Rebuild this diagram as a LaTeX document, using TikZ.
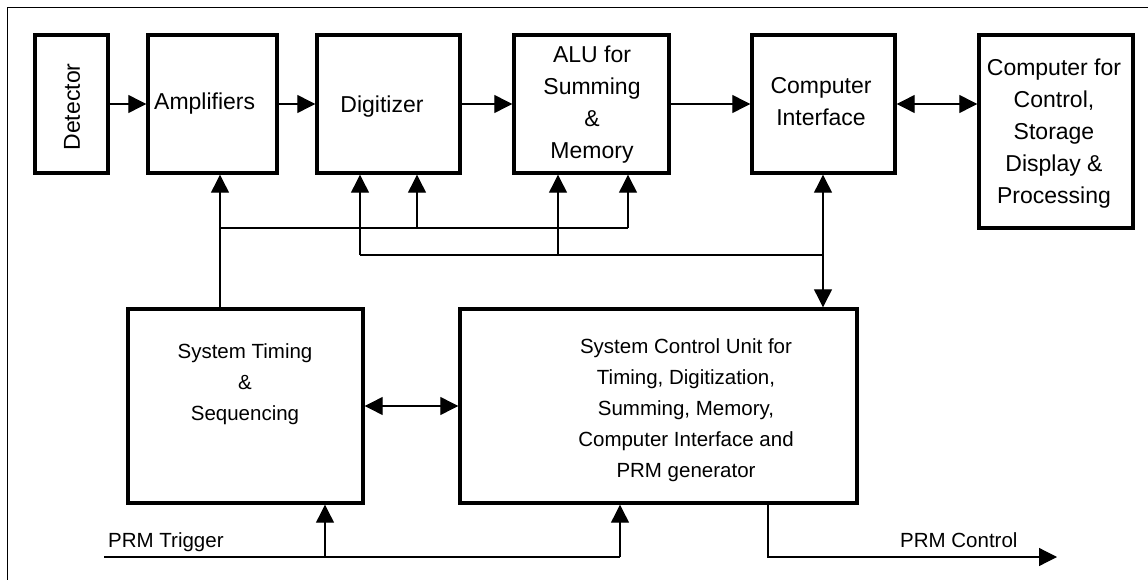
\documentclass[tikz,border=0pt]{standalone}
\usepackage{fontspec}
\setmainfont{Liberation Sans}
\usetikzlibrary{arrows.meta}
\begin{document}
\begin{tikzpicture}[x=1pt,y=-1pt,
  blk/.style={draw, line width=3.4pt, inner sep=0pt},
  big/.style={font=\fontsize{23}{32}\selectfont, align=center, inner sep=0pt},
  small/.style={font=\fontsize{20.5}{31}\selectfont, align=center, inner sep=0pt},
  conn/.style={line width=1.2pt},
  arr/.style={conn, -{Triangle[length=18pt,width=18pt]}},
  darr/.style={conn, {Triangle[length=18pt,width=18pt]}-{Triangle[length=18pt,width=18pt]}}]
\useasboundingbox (0,0) rectangle (1148,580);
% frame (only left and top edges visible)
\draw[line width=1pt] (7,580) -- (7,8) -- (1148,8);

% top row boxes
\node[blk, minimum width=73pt, minimum height=138pt] (det) at (71.5,104) {};
\node[blk, minimum width=129pt, minimum height=138pt] (amp) at (212.5,104) {};
\node[blk, minimum width=143pt, minimum height=138pt] (dig) at (388.5,104) {};
\node[blk, minimum width=155pt, minimum height=138pt] (alu) at (591.5,104) {};
\node[blk, minimum width=143pt, minimum height=138pt] (ci) at (823.5,104) {};
\node[blk, minimum width=154pt, minimum height=193pt] (comp) at (1056,131.5) {};

\node[big, rotate=90] (dett) at (72,107) {Detector};
\node[big, anchor=west] (ampt) at (154,104) {Amplifiers};
\node[big] (digt) at (382,107) {Digitizer};
\node[big] (alut) at (592,105) {ALU for\\Summing\\\&\\Memory};
\node[big] (cit) at (821,102) {Computer\\Interface};
\node[big] (compt) at (1054,134) {Computer for\\Control,\\Storage\\Display \&\\Processing};

% bottom row boxes
\node[blk, minimum width=235pt, minimum height=194pt] (st) at (245.5,406) {};
\node[blk, minimum width=397pt, minimum height=194pt] (scu) at (658.5,406) {};
\node[small] (stt) at (245,384) {System Timing\\\&\\Sequencing};
\node[small] (scut) at (686,410) {System Control Unit for\\Timing, Digitization,\\Summing, Memory,\\Computer Interface and\\PRM generator};

% top row connectors
\draw[arr] (det) -- (amp);
\draw[arr] (amp) -- (dig);
\draw[arr] (dig) -- (alu);
\draw[arr] (alu) -- (ci);
\draw[darr] (ci.east) -- (ci.east -| comp.west);

% buses
\coordinate (a1) at (220,228);
\coordinate (a2) at (417,228);
\coordinate (a3) at (628,228);
\coordinate (b1) at (360,255);
\coordinate (b2) at (558,255);
\coordinate (b3) at (823,255);
\draw[arr] (st.north -| a1) -- (amp.south -| a1);
\draw[conn] (a1) -- (a3);
\draw[arr] (a2) -- (dig.south -| a2);
\draw[arr] (a3) -- (alu.south -| a3);
\draw[conn] (b1) -- (b3);
\draw[arr] (b1) -- (dig.south -| b1);
\draw[arr] (b2) -- (alu.south -| b2);
\draw[darr] (ci.south -| b3) -- (scu.north -| b3);

% bottom connectors
\draw[darr] (st.east) -- (scu.west);
\coordinate (trig) at (104,557);
\coordinate (t1) at (325,557);
\coordinate (t2) at (620,557);
\draw[conn] (trig) -- (t2);
\draw[arr] (t1) -- (st.south -| t1);
\draw[arr] (t2) -- (scu.south -| t2);
\coordinate (c1) at (768,557);
\coordinate (ctl) at (1057,557);
\draw[arr] (scu.south -| c1) -- (c1) -- (ctl);

\node[small, anchor=base west] (trigt) at (108,547) {PRM Trigger};
\node[small, anchor=base west] (ctlt) at (900,547) {PRM Control};
\end{tikzpicture}
\end{document}
